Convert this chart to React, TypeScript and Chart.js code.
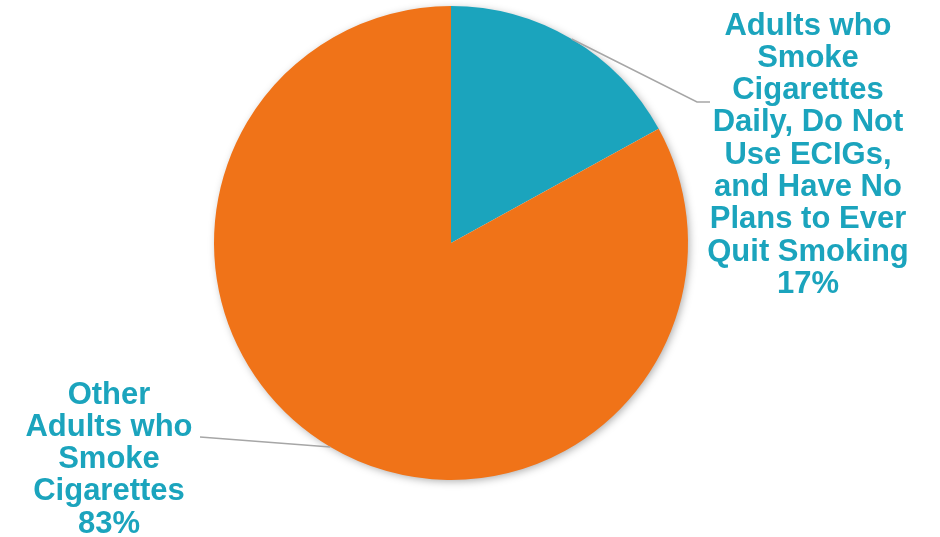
import React, { useEffect, useRef } from "react";
import { Chart, registerables } from "chart.js";

Chart.register(...registerables);

const categories = [
  "Adults who Smoke Cigarettes Daily, Do Not Use ECIGs, and Have No Plans to Ever Quit Smoking",
  "Other Adults who Smoke Cigarettes",
];
const values = [17, 83];
const labelLines = [
  ["Adults who", "Smoke", "Cigarettes", "Daily, Do Not", "Use ECIGs,", "and Have No", "Plans to Ever", "Quit Smoking", "17%"],
  ["Other", "Adults who", "Smoke", "Cigarettes", "83%"],
];
const colors = ["#1BA4BD", "#F07318"];
const TEXT_COLOR = "#1BA4BD";

const labelPlugin = {
  id: "outsideLabels",
  beforeDatasetsDraw(chart: any) {
    const meta = chart.getDatasetMeta(0);
    const arc = meta.data[0];
    if (!arc) return;
    const { x, y, outerRadius } = arc.getProps(["x", "y", "outerRadius"], true);
    const ctx = chart.ctx;
    ctx.save();
    ctx.shadowColor = "rgba(0,0,0,0.35)";
    ctx.shadowBlur = 8;
    ctx.shadowOffsetX = 2;
    ctx.shadowOffsetY = 2;
    ctx.fillStyle = "#ffffff";
    ctx.beginPath();
    ctx.arc(x, y, outerRadius - 1, 0, Math.PI * 2);
    ctx.fill();
    ctx.restore();
  },
  afterDraw(chart: any) {
    const ctx = chart.ctx;
    const meta = chart.getDatasetMeta(0);
    const a0 = meta.data[0].getProps(["x", "y", "outerRadius", "startAngle", "endAngle"], true);
    const a1 = meta.data[1].getProps(["x", "y", "outerRadius", "startAngle", "endAngle"], true);
    const cx = a0.x, cy = a0.y, r = a0.outerRadius;

    const pt = (ang: number, rad: number) => [cx + Math.cos(ang) * rad, cy + Math.sin(ang) * rad];

    ctx.save();
    ctx.strokeStyle = "#A6A6A6";
    ctx.lineWidth = 1.5;
    // right leader
    const s0 = pt((a0.startAngle + a0.endAngle) / 2, r);
    ctx.beginPath();
    ctx.moveTo(s0[0], s0[1]);
    ctx.lineTo(cx + 246, cy - 141);
    ctx.lineTo(cx + 259, cy - 141);
    ctx.stroke();
    // left leader
    const s1 = pt((a1.startAngle + a1.endAngle) / 2, r);
    ctx.beginPath();
    ctx.moveTo(s1[0], s1[1]);
    ctx.lineTo(cx - 251, cy + 194);
    ctx.stroke();

    ctx.fillStyle = TEXT_COLOR;
    ctx.font = "bold 31px 'Liberation Sans', Arial, sans-serif";
    ctx.textAlign = "center";
    ctx.textBaseline = "middle";
    const lh = 32.3;
    labelLines[0].forEach((t, i) => ctx.fillText(t, cx + 357, cy - 217 + i * lh));
    labelLines[1].forEach((t, i) => ctx.fillText(t, cx - 342, cy + 152 + i * lh));
    ctx.restore();
  },
};

export default function App() {
  const ref = useRef<HTMLCanvasElement>(null);
  useEffect(() => {
    document.body.style.margin = "0";
    const chart = new Chart(ref.current!, {
      type: "pie",
      data: {
        labels: categories,
        datasets: [{ data: values, backgroundColor: colors, borderWidth: 0 }],
      },
      options: {
        animation: false,
        responsive: false,
        layout: { padding: { left: 214, right: 252, top: 6, bottom: 57 } },
        plugins: { legend: { display: false }, tooltip: { enabled: false } },
      },
      plugins: [labelPlugin],
    });
    return () => chart.destroy();
  }, []);
  return (
    <div style={{ width: 940, height: 537, background: "#fff" }}>
      <canvas ref={ref} width={940} height={537} style={{ display: "block" }} />
    </div>
  );
}
